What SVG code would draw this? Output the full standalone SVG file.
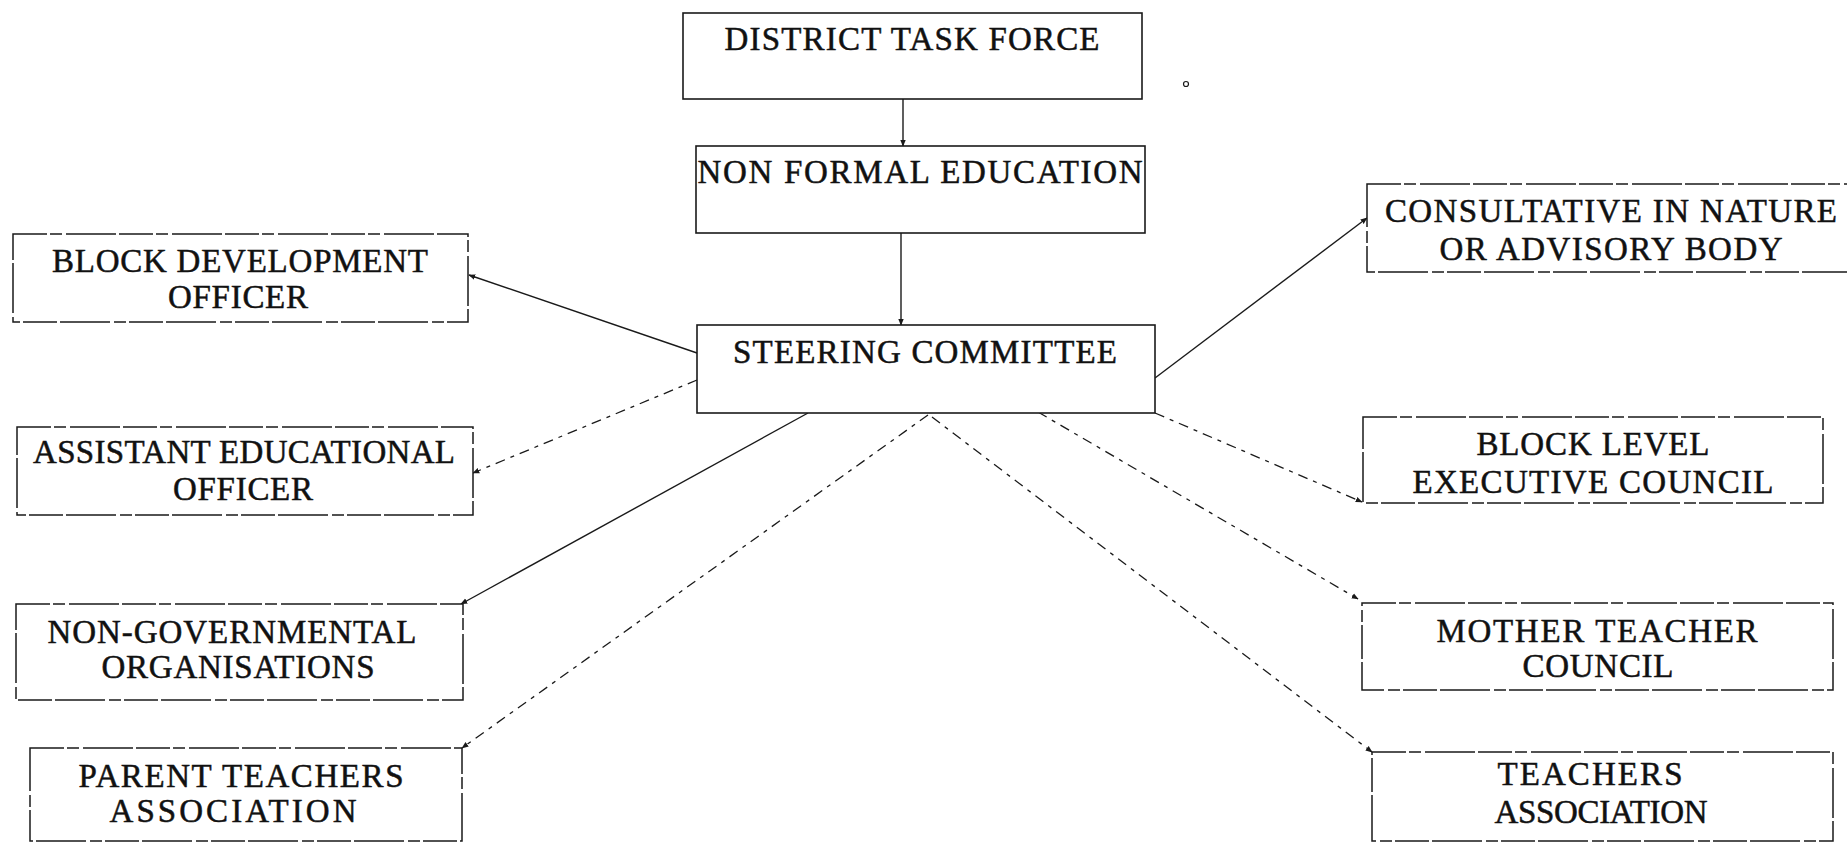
<svg xmlns="http://www.w3.org/2000/svg" width="1847" height="843" viewBox="0 0 1847 843">
<style>
  .box { fill: #fff; stroke: #1a1a1a; stroke-width: 1.6; }
  .sbox { fill: #fff; stroke: #1a1a1a; stroke-width: 1.5; stroke-dasharray: 34 3 12 4 50 3; }
  .t { font-family: "Liberation Serif", "Times New Roman", serif; font-size: 33px; fill: #111; stroke: #111; stroke-width: 0.5; text-anchor: middle; }
  .solid { stroke: #1a1a1a; stroke-width: 1.4; fill: none; marker-end: url(#ah); }
  .dash { stroke: #1a1a1a; stroke-width: 1.3; fill: none; stroke-dasharray: 10 6 4 6; marker-end: url(#ah); }
</style>
<defs>
  <marker id="ah" viewBox="0 0 10 10" refX="9" refY="5" markerWidth="7" markerHeight="7" markerUnits="userSpaceOnUse" orient="auto">
    <path d="M0,1 L10,5 L0,9 Z" fill="#1a1a1a"/>
  </marker>
</defs>
<rect width="1847" height="843" fill="#fff"/>

<g id="connectors">
  <line class="solid" x1="903" y1="99" x2="903" y2="146"/>
  <line class="solid" x1="901" y1="233" x2="901" y2="325"/>
  <line class="solid" x1="697" y1="353" x2="469" y2="275"/>
  <line class="dash" x1="697" y1="380" x2="473" y2="473"/>
  <line class="solid" x1="808" y1="413" x2="461" y2="604"/>
  <line class="dash" x1="928" y1="415" x2="462" y2="748"/>
  <line class="dash" x1="932" y1="417" x2="1372" y2="752"/>
  <line class="dash" x1="1038" y1="412" x2="1358" y2="599"/>
  <line class="dash" x1="1155" y1="413" x2="1362" y2="502"/>
  <line class="solid" x1="1155" y1="378" x2="1367" y2="218"/>
</g>

<g id="district-task-force">
  <rect class="box" x="683" y="13" width="459" height="86"/>
  <text class="t" x="912" y="50" font-size="30" textLength="375" lengthAdjust="spacing">DISTRICT TASK FORCE</text>
</g>

<g id="non-formal-education">
  <rect class="box" x="696" y="146" width="449" height="87"/>
  <text class="t" x="920" y="183" font-size="34" textLength="445" lengthAdjust="spacing">NON FORMAL EDUCATION</text>
</g>

<g id="steering-committee">
  <rect class="box" x="697" y="325" width="458" height="88"/>
  <text class="t" x="925" y="363" font-size="32" textLength="384" lengthAdjust="spacing">STEERING COMMITTEE</text>
</g>

<g id="block-development-officer">
  <rect class="sbox" x="13" y="234" width="455" height="88"/>
  <text class="t" x="240" y="272" textLength="376" lengthAdjust="spacing">BLOCK DEVELOPMENT</text>
  <text class="t" x="238" y="308" textLength="140" lengthAdjust="spacing">OFFICER</text>
</g>

<g id="assistant-educational-officer">
  <rect class="sbox" x="17" y="427" width="456" height="88"/>
  <text class="t" x="244" y="463" textLength="422" lengthAdjust="spacing">ASSISTANT EDUCATIONAL</text>
  <text class="t" x="243" y="500" textLength="140" lengthAdjust="spacing">OFFICER</text>
</g>

<g id="non-governmental-organisations">
  <rect class="sbox" x="16" y="604" width="447" height="96"/>
  <text class="t" x="232" y="643" textLength="369" lengthAdjust="spacing">NON-GOVERNMENTAL</text>
  <text class="t" x="238" y="678" textLength="273" lengthAdjust="spacing">ORGANISATIONS</text>
</g>

<g id="parent-teachers-association">
  <rect class="sbox" x="30" y="748" width="432" height="93"/>
  <text class="t" x="241" y="787" textLength="325" lengthAdjust="spacing">PARENT TEACHERS</text>
  <text class="t" x="233" y="822" textLength="247" lengthAdjust="spacing">ASSOCIATION</text>
</g>

<g id="consultative-advisory-body">
  <rect class="sbox" x="1367" y="184" width="490" height="88"/>
  <text class="t" x="1611" y="222" textLength="452" lengthAdjust="spacing">CONSULTATIVE IN NATURE</text>
  <text class="t" x="1611" y="260" textLength="343" lengthAdjust="spacing">OR ADVISORY BODY</text>
</g>

<g id="block-level-executive-council">
  <rect class="sbox" x="1363" y="417" width="460" height="86"/>
  <text class="t" x="1593" y="455" textLength="233" lengthAdjust="spacing">BLOCK LEVEL</text>
  <text class="t" x="1593" y="493" textLength="361" lengthAdjust="spacing">EXECUTIVE COUNCIL</text>
</g>

<g id="mother-teacher-council">
  <rect class="sbox" x="1362" y="603" width="471" height="87"/>
  <text class="t" x="1597" y="642" textLength="321" lengthAdjust="spacing">MOTHER TEACHER</text>
  <text class="t" x="1598" y="677" textLength="151" lengthAdjust="spacing">COUNCIL</text>
</g>

<g id="teachers-association">
  <rect class="sbox" x="1372" y="752" width="461" height="89"/>
  <text class="t" x="1590" y="785" textLength="185" lengthAdjust="spacing">TEACHERS</text>
  <text class="t" x="1601" y="823" textLength="213" lengthAdjust="spacing">ASSOCIATION</text>
</g>

<circle cx="1186" cy="84" r="2.5" fill="none" stroke="#1a1a1a" stroke-width="1.2"/>
</svg>
